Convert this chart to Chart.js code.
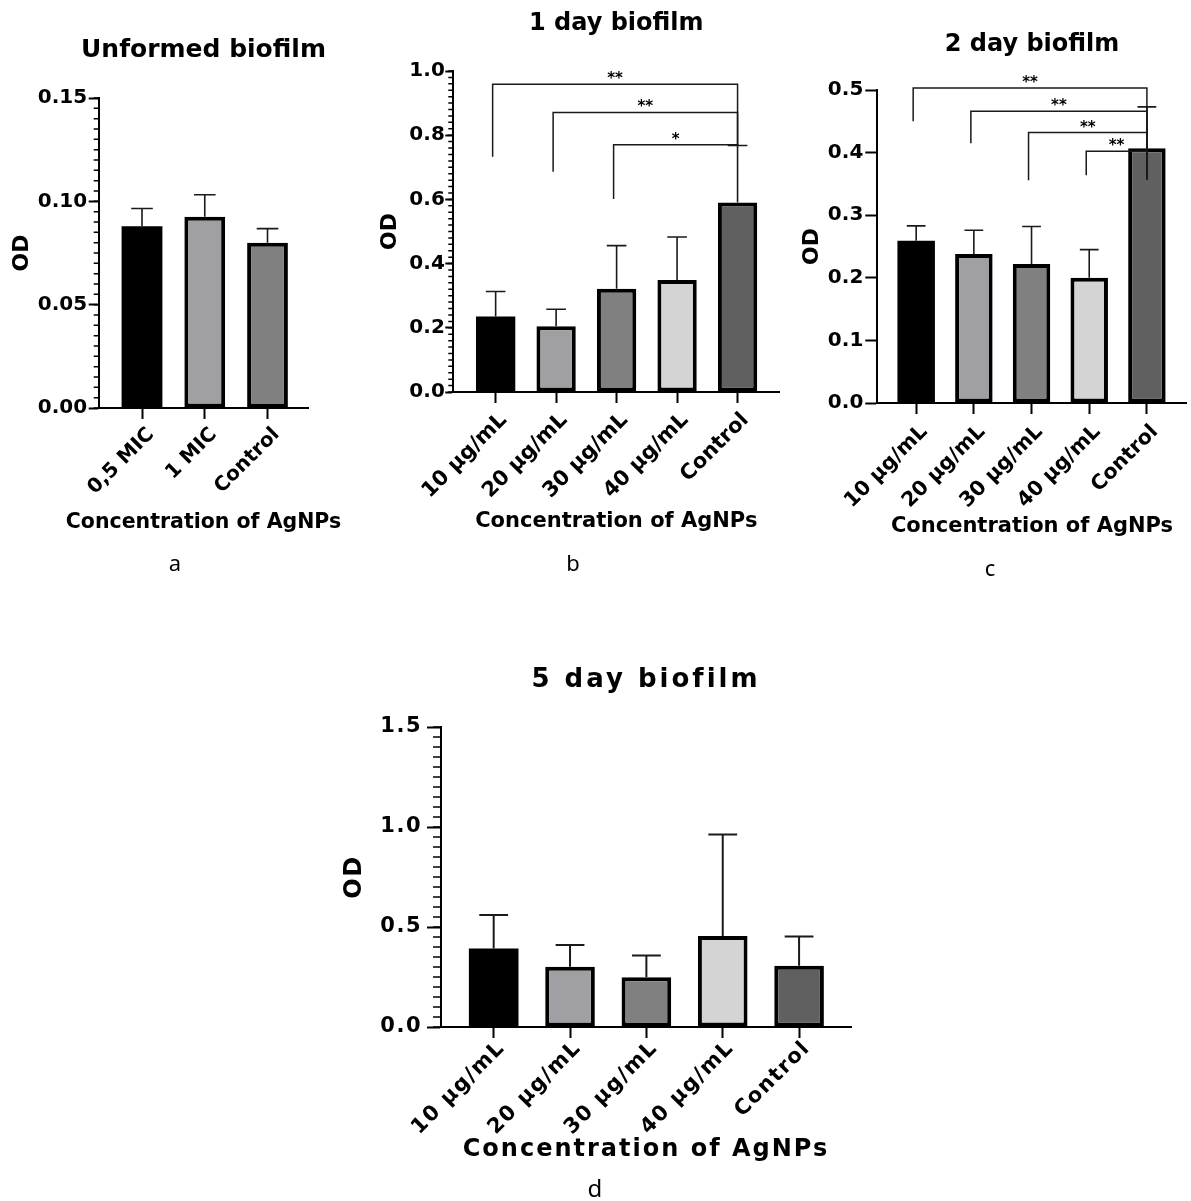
<!DOCTYPE html>
<html>
<head>
<meta charset="utf-8">
<script src="https://cdn.jsdelivr.net/npm/chart.js@4.4.1/dist/chart.umd.min.js"></script>
<style>
  html, body { margin: 0; padding: 0; background: #fff; }
  body { position: relative; width: 1191px; height: 1201px; overflow: hidden; }
  canvas { position: absolute; }
</style>
</head>
<body>
<canvas id="panelA"></canvas>
<canvas id="panelB"></canvas>
<canvas id="panelC"></canvas>
<canvas id="panelD"></canvas>
<script>
// values (mean OD and error)
const dosesShort = ['0,5 MIC', '1 MIC', 'Control'];
const doses = ['10 μg/mL', '20 μg/mL', '30 μg/mL', '40 μg/mL', 'Control'];

const odUnformed = [0.088, 0.0925, 0.080];
const errUnformed = [0.0085, 0.0107, 0.0068];

const odDay1 = [0.235, 0.205, 0.322, 0.349, 0.590];
const errDay1 = [0.078, 0.053, 0.134, 0.134, 0.178];

const odDay2 = [0.259, 0.238, 0.222, 0.200, 0.407];
const errDay2 = [0.024, 0.038, 0.060, 0.045, 0.066];

const odDay5 = [0.392, 0.301, 0.249, 0.455, 0.306];
const errDay5 = [0.168, 0.109, 0.108, 0.508, 0.147];

const ticksUnformed = [0, 0.05, 0.10, 0.15];
const ticksDay1 = [0, 0.2, 0.4, 0.6, 0.8, 1.0];
const ticksDay2 = [0, 0.1, 0.2, 0.3, 0.4, 0.5];
const ticksDay5 = [0, 0.5, 1.0, 1.5];

// significance brackets against Control: first bar, bracket height, left leg end, stars
const sigFromDay1 = [0, 1, 2];
const sigLevelDay1 = [0.959, 0.871, 0.770];
const sigLegDay1 = [0.733, 0.686, 0.601];
const sigStarsDay1 = ['**', '**', '*'];

const sigFromDay2 = [0, 1, 2, 3];
const sigLevelDay2 = [0.503, 0.466, 0.432, 0.402];
const sigLegDay2 = [0.450, 0.415, 0.356, 0.364];
const sigStarsDay2 = ['**', '**', '**', '**'];

const fills5 = ['#000000', '#a0a0a4', '#808080', '#d4d4d4', '#606060'];
const fills3 = ['#000000', '#a0a0a4', '#808080'];

const FONT = "'DejaVu Sans', sans-serif";
const X_TITLE = 'Concentration of AgNPs';

// error bars above each bar
const errorBars = {
    id: 'errorBars',
    afterDatasetsDraw(chart, args, opts) {
        const { ctx } = chart;
        const y = chart.scales.y;
        const ds = chart.data.datasets[0];
        ctx.save();
        ctx.strokeStyle = '#1a1a1a';
        ctx.lineWidth = opts.width;
        chart.getDatasetMeta(0).data.forEach((bar, i) => {
            const top = y.getPixelForValue(ds.data[i].y + opts.errors[i]);
            const half = bar.width * opts.cap / 2;
            ctx.beginPath();
            ctx.moveTo(bar.x, bar.y);
            ctx.lineTo(bar.x, top);
            ctx.moveTo(bar.x - half, top);
            ctx.lineTo(bar.x + half, top);
            ctx.stroke();
        });
        ctx.restore();
    }
};

// brackets with stars
const sigBrackets = {
    id: 'sigBrackets',
    afterDraw(chart, args, opts) {
        if (!opts.from) return;
        const { ctx } = chart;
        const x = chart.scales.x, y = chart.scales.y;
        const xR = x.getPixelForValue(opts.to);
        const yR = y.getPixelForValue(opts.rightEnd);
        ctx.save();
        ctx.strokeStyle = '#1a1a1a';
        ctx.lineWidth = 1.5;
        ctx.fillStyle = '#000';
        ctx.font = `bold 15px ${FONT}`;
        ctx.textAlign = 'center';
        ctx.textBaseline = 'alphabetic';
        opts.from.forEach((f, k) => {
            const xL = x.getPixelForValue(f) - 3;
            const yL = y.getPixelForValue(opts.level[k]);
            ctx.beginPath();
            ctx.moveTo(xL, y.getPixelForValue(opts.leg[k]));
            ctx.lineTo(xL, yL);
            ctx.lineTo(xR, yL);
            ctx.lineTo(xR, yR);
            ctx.stroke();
            ctx.fillText(opts.stars[k], (xL + xR) / 2, yL - 1);
        });
        ctx.restore();
    }
};

// short minor ticks on the y axis
const minorTicks = {
    id: 'minorTicks',
    afterDraw(chart, args, opts) {
        if (!opts.step) return;
        const { ctx, chartArea } = chart;
        const y = chart.scales.y;
        const n = Math.round((y.max - y.min) / opts.step);
        ctx.save();
        ctx.strokeStyle = '#000';
        ctx.lineWidth = 1.5;
        ctx.beginPath();
        for (let k = 0; k <= n; k++) {
            const p = y.getPixelForValue(y.min + k * opts.step);
            ctx.moveTo(chartArea.left - opts.length, p);
            ctx.lineTo(chartArea.left, p);
        }
        ctx.stroke();
        ctx.restore();
    }
};

// wider lettering for the last panel (its text is stretched in the original)
const spacing = {
    id: 'spacing',
    beforeDraw(chart, args, opts) {
        if (opts.px) chart.ctx.letterSpacing = opts.px + 'px';
    }
};

// panel heading, x axis title and the letter under the panel
const panelText = {
    id: 'panelText',
    afterDraw(chart, args, opts) {
        const { ctx, chartArea } = chart;
        const cx = (chartArea.left + chartArea.right) / 2;
        ctx.save();
        ctx.fillStyle = '#000';
        ctx.textAlign = 'center';
        ctx.textBaseline = 'middle';
        ctx.letterSpacing = opts.titleSpacing + 'px';
        ctx.font = `bold ${opts.titleSize}px ${FONT}`;
        ctx.fillText(opts.title, cx, opts.titleY);
        ctx.letterSpacing = opts.xTitleSpacing + 'px';
        ctx.font = `bold ${opts.xTitleSize}px ${FONT}`;
        ctx.fillText(X_TITLE, cx, opts.xTitleY);
        ctx.letterSpacing = '0px';
        ctx.font = `${opts.tagSize}px 'Noto Sans', sans-serif`;
        ctx.fillText(opts.tag, opts.tagX, opts.tagY);
        ctx.restore();
    }
};

function makePanel(p) {
    const [ox, oy, w, h] = p.box;
    const canvas = document.getElementById(p.id);
    canvas.width = w;
    canvas.height = h;
    canvas.style.left = ox + 'px';
    canvas.style.top = oy + 'px';

    const [pl, pt, pr, pb] = p.plot;
    const axisLeft = p.odX - p.odSize * 0.6;
    const yWidth = pl - axisLeft;
    const xHeight = p.xTitleY - pb + 16;

    new Chart(canvas, {
        type: 'bar',
        data: {
            datasets: [{
                data: p.means.map((v, i) => ({ x: i, y: v })),
                backgroundColor: p.fills,
                borderColor: '#000',
                // the black bar needs no separate outline
                borderWidth: p.fills.map(c => (c === '#000000' ? 0 : 4)),
                borderSkipped: false,
                barPercentage: 0.65,
                categoryPercentage: 1
            }]
        },
        options: {
            responsive: false,
            animation: false,
            devicePixelRatio: 1,
            events: [],
            layout: {
                padding: {
                    left: axisLeft - ox,
                    top: pt - oy,
                    right: ox + w - pr,
                    bottom: oy + h - pb - xHeight
                }
            },
            scales: {
                x: {
                    type: 'linear',
                    offset: false,
                    min: p.xRange[0],
                    max: p.xRange[1],
                    afterBuildTicks: s => { s.ticks = p.labels.map((_, i) => ({ value: i })); },
                    afterFit: s => { s.height = xHeight; s.paddingLeft = 0; s.paddingRight = 0; },
                    ticks: {
                        autoSkip: false,
                        minRotation: 45,
                        maxRotation: 45,
                        labelOffset: p.labelOffset,
                        padding: p.labelPad,
                        color: '#000',
                        font: { family: FONT, size: p.xTickSize, weight: 'bold' },
                        callback: v => p.labels[v]
                    },
                    grid: { offset: false, drawOnChartArea: false, tickLength: 11, tickWidth: 2, tickColor: '#000' },
                    border: { color: '#000', width: 2 }
                },
                y: {
                    min: 0,
                    max: p.yTicks[p.yTicks.length - 1],
                    afterBuildTicks: s => { s.ticks = p.yTicks.map(v => ({ value: v })); },
                    afterFit: s => { s.width = yWidth; s.paddingTop = 0; s.paddingBottom = 0; },
                    ticks: {
                        padding: p.yPad,
                        color: '#000',
                        font: { family: FONT, size: p.yTickSize, weight: 'bold' },
                        callback: v => v.toFixed(p.decimals)
                    },
                    grid: { drawOnChartArea: false, tickLength: p.majorLen, tickWidth: 2, tickColor: '#000' },
                    border: { color: '#000', width: 2 },
                    title: {
                        display: true,
                        text: 'OD',
                        color: '#000',
                        padding: 0,
                        font: { family: FONT, size: p.odSize, weight: 'bold', lineHeight: 1.2 }
                    }
                }
            },
            plugins: {
                legend: { display: false },
                tooltip: { enabled: false },
                spacing: { px: p.spacing || 0 },
                errorBars: { errors: p.errors, cap: p.cap, width: p.errWidth },
                sigBrackets: p.sig || {},
                minorTicks: { step: p.minor, length: p.minorLen },
                panelText: {
                    title: p.title, titleSize: p.titleSize, titleY: p.titleY - oy, titleSpacing: p.titleSpacing || 0,
                    xTitleSize: p.xTitleSize, xTitleY: p.xTitleY - oy, xTitleSpacing: p.xTitleSpacing || 0,
                    tag: p.tag, tagSize: p.tagSize, tagX: p.tagX - ox, tagY: p.tagY - oy
                }
            }
        },
        plugins: [spacing, errorBars, sigBrackets, minorTicks, panelText]
    });
}

makePanel({
    id: 'panelA', box: [0, 0, 360, 600], plot: [98.7, 98, 308.3, 408],
    labels: dosesShort, means: odUnformed, errors: errUnformed, fills: fills3,
    yTicks: ticksUnformed, decimals: 2, minor: 0.005, minorLen: 5, majorLen: 10, yPad: 1.5,
    xRange: [-0.69, 2.65], odX: 22, odSize: 22, xTitleY: 523, xTitleSize: 20.5,
    yTickSize: 20, xTickSize: 20, labelOffset: 9, labelPad: 4,
    cap: 0.53, errWidth: 1.6,
    title: 'Unformed biofilm', titleSize: 25, titleY: 50, tag: 'a', tagSize: 22, tagX: 175, tagY: 565
});

makePanel({
    id: 'panelB', box: [360, 0, 430, 600], plot: [453.3, 71, 779.3, 392],
    labels: doses, means: odDay1, errors: errDay1, fills: fills5,
    yTicks: ticksDay1, decimals: 1, minor: 0.02, minorLen: 5, majorLen: 8, yPad: 0.5,
    xRange: [-0.70, 4.69], odX: 390, odSize: 22, xTitleY: 522, xTitleSize: 21,
    yTickSize: 20, xTickSize: 21, labelOffset: 8, labelPad: 5,
    cap: 0.5, errWidth: 1.6,
    sig: { from: sigFromDay1, to: 4, level: sigLevelDay1, leg: sigLegDay1, stars: sigStarsDay1, rightEnd: 0.768 },
    title: '1 day biofilm', titleSize: 24, titleY: 24, tag: 'b', tagSize: 22, tagX: 573, tagY: 565
});

makePanel({
    id: 'panelC', box: [790, 0, 401, 600], plot: [877.3, 90, 1186.7, 403],
    labels: doses, means: odDay2, errors: errDay2, fills: fills5,
    yTicks: ticksDay2, decimals: 1, minor: 0, minorLen: 0, majorLen: 12, yPad: 2,
    xRange: [-0.674, 4.69], odX: 812.5, odSize: 22, xTitleY: 527, xTitleSize: 21,
    yTickSize: 20, xTickSize: 20.5, labelOffset: 8, labelPad: 6,
    cap: 0.5, errWidth: 1.6,
    sig: { from: sigFromDay2, to: 4, level: sigLevelDay2, leg: sigLegDay2, stars: sigStarsDay2, rightEnd: 0.357 },
    title: '2 day biofilm', titleSize: 24, titleY: 45, tag: 'c', tagSize: 22, tagX: 990, tagY: 570
});

makePanel({
    id: 'panelD', box: [300, 640, 600, 561], plot: [441, 727, 851, 1027],
    labels: doses, means: odDay5, errors: errDay5, fills: fills5,
    yTicks: ticksDay5, decimals: 1, minor: 0.05, minorLen: 8, majorLen: 14, yPad: 5,
    xRange: [-0.69, 4.68], odX: 355, odSize: 24, xTitleY: 1150, xTitleSize: 24, xTitleSpacing: 2,
    yTickSize: 21, xTickSize: 21, labelOffset: 8, labelPad: -2, spacing: 1.5,
    cap: 0.58, errWidth: 2,
    title: '5 day biofilm', titleSize: 26, titleY: 680, titleSpacing: 3,
    tag: 'd', tagSize: 24, tagX: 595, tagY: 1190
});
</script>
</body>
</html>
